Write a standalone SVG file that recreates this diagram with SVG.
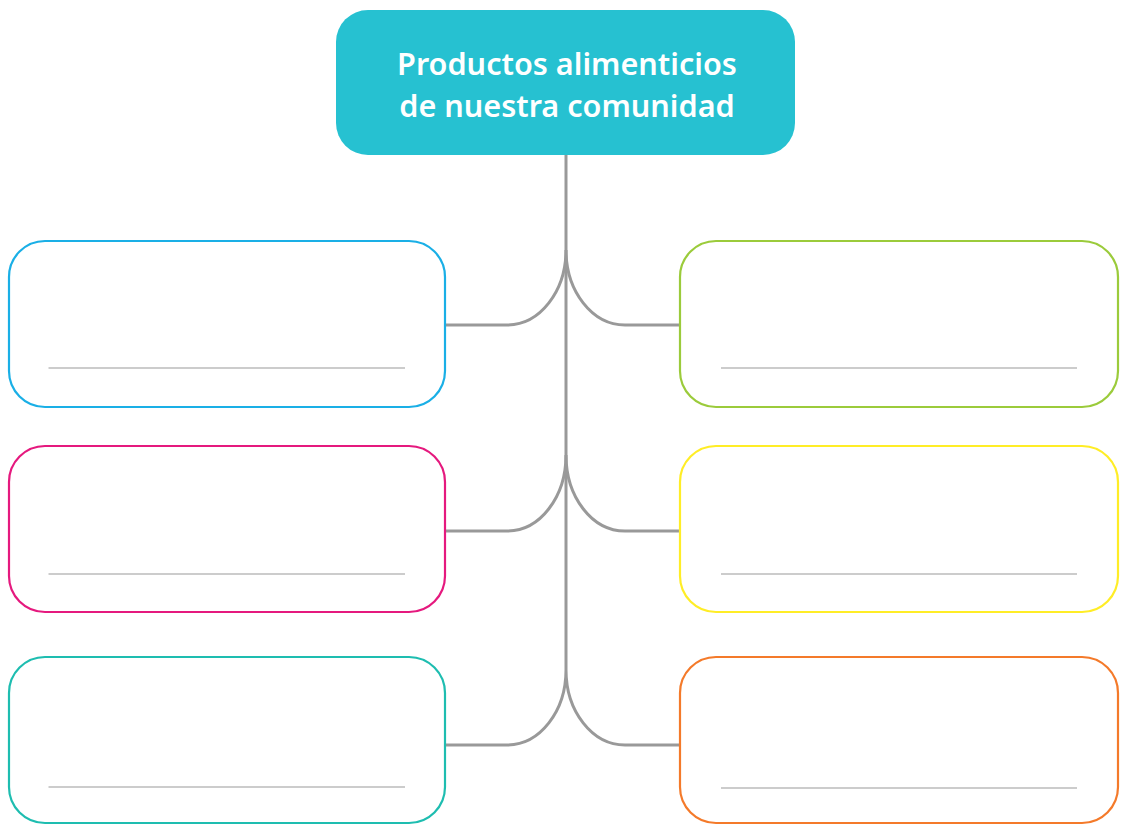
<svg xmlns="http://www.w3.org/2000/svg" width="1121" height="825" viewBox="0 0 1121 825">
<style>
.box{fill:#fff;stroke-width:2.2}
.ul{stroke:#9a9a9a;stroke-width:1.2}
.con{fill:none;stroke:#999;stroke-width:3}
.title{font-family:"Noto Sans","Open Sans",sans-serif;font-weight:600;font-size:30.6px;fill:#fff;text-anchor:middle}
</style>
<rect width="1121" height="825" fill="#fff"/>
<g id="connectors">
<path class="con" d="M566,155 V670"/>
<path class="con" d="M566,250 C566,291 540,325 507,325 H446 M566,250 C566,291 592,325 625,325 H680"/>
<path class="con" d="M566,455 C566,497 540,531 507,531 H446 M566,455 C566,497 592,531 625,531 H680"/>
<path class="con" d="M566,670 C566,711 540,745 507,745 H446 M566,670 C566,711 592,745 625,745 H680"/>
</g>
<g id="title">
<rect x="336" y="10" width="459" height="145" rx="32" fill="#26C1D1"/>
<text class="title" x="567" y="75">Productos alimenticios</text>
<text class="title" x="567" y="117">de nuestra comunidad</text>
</g>
<g id="box-l1"><rect class="box" x="9" y="241" width="436" height="166" rx="36" stroke="#1AAFE6"/><line class="ul" x1="48.5" y1="368" x2="405" y2="368"/></g>
<g id="box-l2"><rect class="box" x="9" y="446" width="436" height="166" rx="36" stroke="#E5197E"/><line class="ul" x1="48.5" y1="574" x2="405" y2="574"/></g>
<g id="box-l3"><rect class="box" x="9" y="657" width="436" height="166" rx="36" stroke="#1EBDB0"/><line class="ul" x1="48.5" y1="787" x2="405" y2="787"/></g>
<g id="box-r1"><rect class="box" x="680" y="241" width="438" height="166" rx="36" stroke="#9BCB3B"/><line class="ul" x1="721" y1="368" x2="1077" y2="368"/></g>
<g id="box-r2"><rect class="box" x="680" y="446" width="438" height="166" rx="36" stroke="#FFED26"/><line class="ul" x1="721" y1="574" x2="1077" y2="574"/></g>
<g id="box-r3"><rect class="box" x="680" y="657" width="438" height="166" rx="36" stroke="#F47A2A"/><line class="ul" x1="721" y1="788" x2="1077" y2="788"/></g>
</svg>
